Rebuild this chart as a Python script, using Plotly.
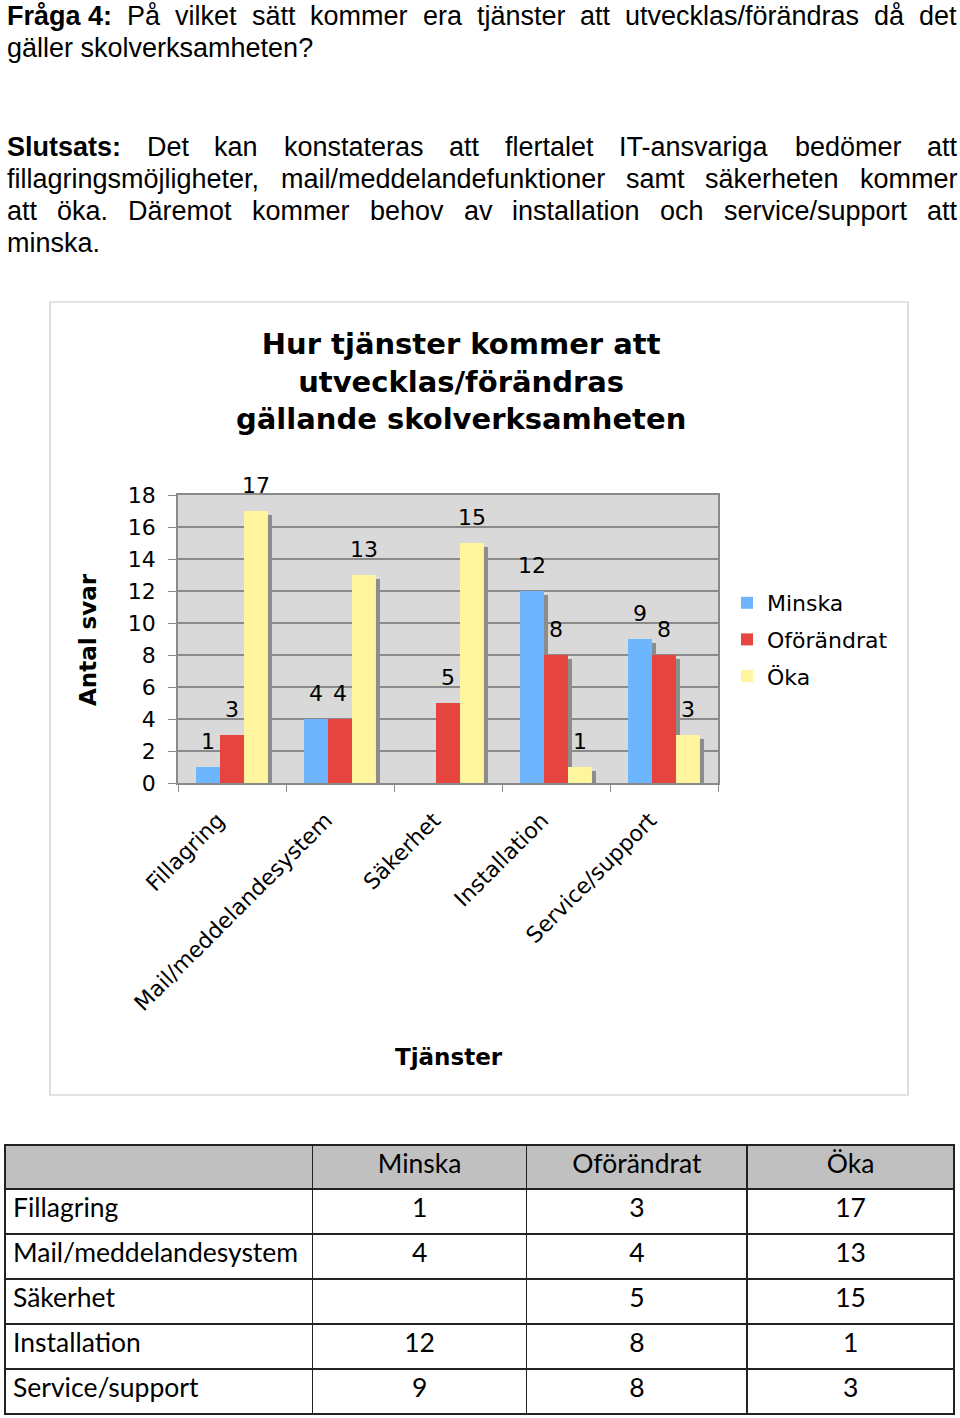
import plotly.graph_objects as go

# ---------------- data ----------------
categories = ["Fillagring", "Mail/meddelandesystem", "Säkerhet", "Installation", "Service/support"]
series_names = ["Minska", "Oförändrat", "Öka"]
minska = [1, 4, None, 12, 9]
oforandrat = [3, 4, 5, 8, 8]
oka = [17, 13, 15, 1, 3]
y_tickvals = [0, 2, 4, 6, 8, 10, 12, 14, 16, 18]

series_values = [minska, oforandrat, oka]

# ---------------- styling ----------------
W, H = 960, 1418


def px(x):
    return x / W


def py(y):
    return 1 - y / H


colors = ["#6DB6FF", "#E6443F", "#FFF59E"]
shadow_color = "#8C8C8C"
bar_w = 0.222
offsets = [-0.333, -0.111, 0.111]
cat_px = (718 - 178) / 5.0
chart_font = "DejaVu Sans, Verdana, sans-serif"
body_font = "Liberation Sans, Arial, Helvetica, sans-serif"
table_font = "Lato, Open Sans, sans-serif"
grid_col = "#8A8A8A"

fig = go.Figure()

# shadows (drawn first, behind)
for i, vals in enumerate(series_values):
    fig.add_trace(go.Bar(
        x=categories,
        y=[(v - 0.25) if v is not None else None for v in vals],
        width=bar_w, offset=offsets[i] + 0.037,
        marker=dict(color=shadow_color, line=dict(width=0)),
        showlegend=False, hoverinfo="skip",
    ))

# bars
for i, vals in enumerate(series_values):
    fig.add_trace(go.Bar(
        x=categories, y=vals, name=series_names[i], legendgroup=series_names[i],
        width=bar_w, offset=offsets[i],
        marker=dict(color=colors[i], line=dict(width=0)),
    ))

annotations = []
# data labels
for i, vals in enumerate(series_values):
    for j, v in enumerate(vals):
        if v is None:
            continue
        annotations.append(dict(
            x=categories[j], y=v, xref="x", yref="y",
            xshift=(offsets[i] + bar_w / 2) * cat_px, yshift=26,
            text=str(v), showarrow=False,
            font=dict(family=chart_font, size=22, color="black"),
            xanchor="center", yanchor="middle",
        ))

# chart title
annotations.append(dict(
    x=px(461), y=py(381), xref="paper", yref="paper",
    text="<b>Hur tjänster kommer att<br>utvecklas/förändras<br>gällande skolverksamheten</b>",
    showarrow=False, font=dict(family=chart_font, size=29, color="black"),
    xanchor="center", yanchor="middle", align="center",
))
# axis titles
annotations.append(dict(
    x=px(88), y=py(640), xref="paper", yref="paper", text="<b>Antal svar</b>",
    textangle=-90, showarrow=False, font=dict(family=chart_font, size=23, color="black"),
    xanchor="center", yanchor="middle",
))
annotations.append(dict(
    x=px(449), y=py(1057), xref="paper", yref="paper", text="<b>Tjänster</b>",
    showarrow=False, font=dict(family=chart_font, size=23, color="black"),
    xanchor="center", yanchor="middle",
))

# ---------------- body text (justified) ----------------
# Arial / Liberation Sans advance widths (1/1000 em)
REG = {" ": 278, ",": 278, "-": 333, ".": 278, "/": 278, "4": 556, ":": 278, "?": 556,
       "A": 667, "D": 722, "I": 278, "P": 667, "S": 667, "T": 611, "F": 611,
       "a": 556, "b": 556, "c": 500, "d": 556, "e": 556, "f": 278, "g": 556, "h": 556,
       "i": 222, "j": 222, "k": 500, "l": 222, "m": 833, "n": 556, "o": 556, "p": 556,
       "r": 333, "s": 500, "t": 278, "u": 556, "v": 500, "y": 500,
       "å": 556, "ä": 556, "ö": 556}
BOLD = {" ": 278, "4": 556, ":": 333, "F": 611, "S": 667, "r": 389, "å": 556, "g": 611,
        "a": 556, "l": 278, "u": 611, "t": 333, "s": 556}

body_size = 27
X0, X1 = 5, 955


def word_width(w, bold):
    table = BOLD if bold else REG
    return sum(table.get(c, 556) for c in w) * body_size / 1000.0


justified_lines = [
    (16, [("Fråga 4:", True), ("På", False), ("vilket", False), ("sätt", False), ("kommer", False),
          ("era", False), ("tjänster", False), ("att", False), ("utvecklas/förändras", False),
          ("då", False), ("det", False)]),
    (147, [("Slutsats:", True), ("Det", False), ("kan", False), ("konstateras", False), ("att", False),
           ("flertalet", False), ("IT-ansvariga", False), ("bedömer", False), ("att", False)]),
    (179, [("fillagringsmöjligheter,", False), ("mail/meddelandefunktioner", False), ("samt", False),
           ("säkerheten", False), ("kommer", False)]),
    (211, [("att", False), ("öka.", False), ("Däremot", False), ("kommer", False), ("behov", False),
           ("av", False), ("installation", False), ("och", False), ("service/support", False),
           ("att", False)]),
]
for yy, words in justified_lines:
    widths = [word_width(w, b) for w, b in words]
    gap = (X1 - X0 - sum(widths)) / (len(words) - 1)
    xx = X0
    for k, ((w, b), ww) in enumerate(zip(words, widths)):
        annotations.append(dict(
            x=px(xx), y=py(yy), xref="paper", yref="paper",
            text=f"<b>{w}</b>" if b else w, showarrow=False,
            font=dict(family=body_font, size=body_size, color="black"),
            xanchor="left", yanchor="middle",
        ))
        xx += ww + gap
for yy, txt in [(48, "gäller skolverksamheten?"), (243, "minska.")]:
    annotations.append(dict(
        x=px(X0), y=py(yy), xref="paper", yref="paper", text=txt, showarrow=False,
        font=dict(family=body_font, size=body_size, color="black"),
        xanchor="left", yanchor="middle",
    ))

# ---------------- table ----------------
def fmt(v):
    return "" if v is None else str(v)


fig.add_trace(go.Table(
    domain=dict(x=[px(5), px(955)], y=[py(1417), py(1145)]),
    columnwidth=[308, 214, 221, 207],
    header=dict(
        values=[""] + series_names,
        fill_color="#C0C0C0",
        line=dict(color="#222222", width=1.5),
        align=["left", "center", "center", "center"],
        font=dict(family=table_font, size=26.5, color="black"),
        height=44,
    ),
    cells=dict(
        values=[categories, [fmt(v) for v in minska], [fmt(v) for v in oforandrat], [fmt(v) for v in oka]],
        fill_color="white",
        line=dict(color="#222222", width=1.5),
        align=["left", "center", "center", "center"],
        font=dict(family=table_font, size=26.5, color="black"),
        height=45,
    ),
))

fig.update_layout(
    width=W, height=H,
    margin=dict(l=0, r=0, t=0, b=0, autoexpand=False),
    paper_bgcolor="white",
    plot_bgcolor="#D9D9D9",
    barmode="overlay",
    showlegend=True,
    legend=dict(
        x=px(727), y=py(582), xanchor="left", yanchor="top",
        font=dict(family=chart_font, size=22, color="black"),
        bgcolor="rgba(0,0,0,0)", traceorder="grouped", tracegroupgap=5,
    ),
    xaxis=dict(
        domain=[px(178), px(718)], type="category", range=[-0.5, 4.5],
        tickangle=-45, tickfont=dict(family=chart_font, size=22, color="black"),
        ticks="outside", tickson="boundaries", ticklen=7, tickcolor=grid_col,
        ticklabelstandoff=14, ticklabelshift=-14,
        showline=True, linecolor=grid_col, linewidth=1.5, mirror=True,
        showgrid=False, fixedrange=True,
    ),
    yaxis=dict(
        domain=[py(783), py(495)], range=[0, 18], tickvals=y_tickvals,
        tickfont=dict(family=chart_font, size=22, color="black"),
        ticks="outside", ticklen=8, tickcolor=grid_col, ticklabelstandoff=8,
        showgrid=True, gridcolor=grid_col, gridwidth=1.5,
        showline=True, linecolor=grid_col, linewidth=1.5, mirror=True,
        zeroline=False, fixedrange=True,
    ),
    annotations=annotations,
    shapes=[dict(type="rect", xref="paper", yref="paper",
                 x0=px(50), x1=px(908), y0=py(1095), y1=py(302),
                 line=dict(color="#C8C8C8", width=1.2), layer="below")],
)

fig.write_html(
    "out.html",
    config={"displayModeBar": False},
    post_script="document.body.style.margin='0';document.body.style.overflow='hidden';",
)
